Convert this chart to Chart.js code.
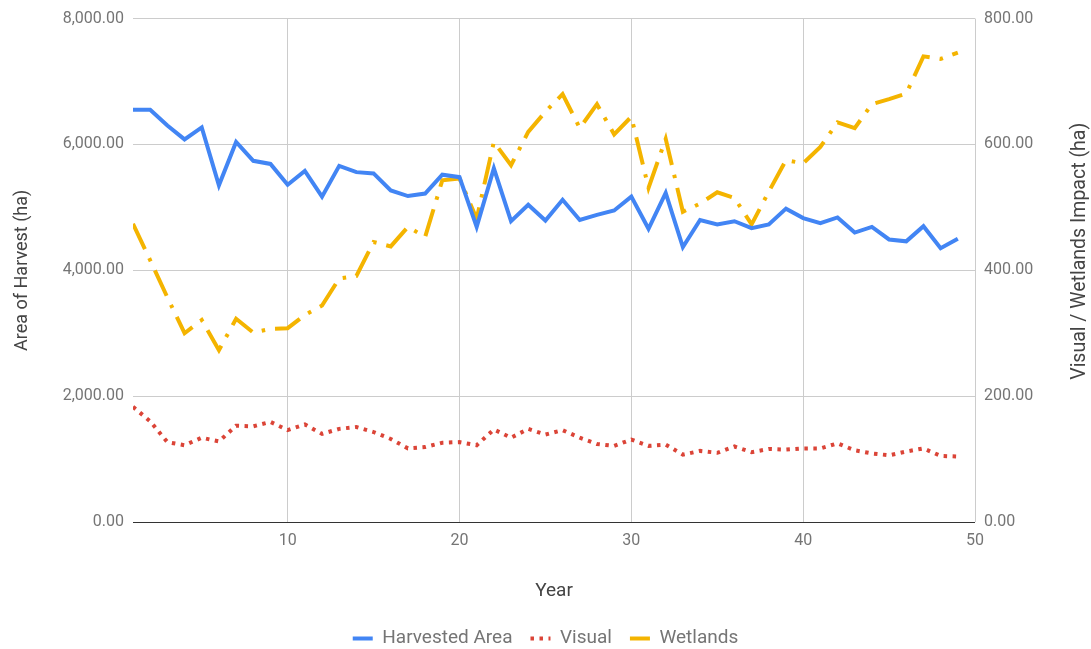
<!DOCTYPE html>
<html>
<head>
<meta charset="utf-8">
<script src="https://cdn.jsdelivr.net/npm/chart.js@4/dist/chart.umd.min.js"></script>
<style>
  html, body { margin: 0; padding: 0; background: #ffffff; }
  #wrap { width: 1091px; height: 649px; }
</style>
</head>
<body>
<div id="wrap"><canvas id="chart" width="1091" height="649"></canvas></div>
<script>
// Year index along the horizontal axis
const years = [1, 2, 3, 4, 5, 6, 7, 8, 9, 10,
  11, 12, 13, 14, 15, 16, 17, 18, 19, 20,
  21, 22, 23, 24, 25, 26, 27, 28, 29, 30,
  31, 32, 33, 34, 35, 36, 37, 38, 39, 40,
  41, 42, 43, 44, 45, 46, 47, 48, 49];

// Area of harvest per year (ha), left axis
const harvestedArea = [6550, 6550, 6300, 6080, 6270, 5350, 6040, 5740, 5690, 5360,
  5580, 5170, 5660, 5560, 5540, 5270, 5180, 5220, 5520, 5480,
  4690, 5620, 4780, 5040, 4790, 5120, 4800, 4880, 4950, 5170,
  4660, 5230, 4370, 4800, 4730, 4780, 4670, 4730, 4980, 4830,
  4750, 4840, 4600, 4690, 4490, 4460, 4700, 4350, 4500];

// Visual impact per year (ha), right axis
const visualImpact = [183, 160, 127, 122, 134, 128, 153, 152, 159, 146,
  155, 140, 148, 151, 143, 132, 117, 119, 126, 127,
  122, 147, 134, 148, 139, 146, 134, 124, 121, 131,
  121, 123, 107, 113, 110, 120, 111, 116, 115, 117,
  117, 125, 114, 109, 106, 112, 117, 105, 104];

// Wetlands impact per year (ha), right axis
const wetlandsImpact = [474, 416, 357, 300, 321, 273, 323, 301, 307, 308,
  329, 344, 387, 391, 445, 438, 469, 453, 543, 546,
  482, 604, 567, 620, 652, 680, 626, 664, 616, 644,
  531, 609, 493, 506, 524, 515, 473, 525, 575, 570,
  596, 635, 626, 664, 672, 681, 740, 736, 746];

const xTicks = [10, 20, 30, 40, 50];
const leftTicks = [0, 2000, 4000, 6000, 8000];
const rightTicks = [0, 200, 400, 600, 800];
const rightAxisTitle = 'Visual / Wetlands Impact (ha)';

const pairs = (vals) => vals.map((v, i) => ({ x: years[i], y: v }));
const fmt = (v) => Number(v).toLocaleString('en-US', { minimumFractionDigits: 2, maximumFractionDigits: 2 });

const FONT = 'Roboto, "Noto Sans", Arial, sans-serif';
const GRID = '#cccccc';
const TICK_COLOR = '#757575';
const TITLE_COLOR = '#444444';

// Right-hand axis title, read bottom-to-top like the left one
const rightTitlePlugin = {
  id: 'rightTitle',
  afterDraw(chart) {
    const ctx = chart.ctx;
    const scale = chart.scales.yRight;
    ctx.save();
    ctx.translate(scale.right - 11, (chart.chartArea.top + chart.chartArea.bottom) / 2 - 19);
    ctx.rotate(-Math.PI / 2);
    ctx.font = '19.5px ' + FONT;
    ctx.fillStyle = TITLE_COLOR;
    ctx.textAlign = 'center';
    ctx.textBaseline = 'middle';
    ctx.fillText(rightAxisTitle, 0, 0);
    ctx.restore();
  }
};

new Chart(document.getElementById('chart'), {
  type: 'line',
  data: {
    datasets: [
      {
        label: 'Harvested Area',
        data: pairs(harvestedArea),
        yAxisID: 'yLeft',
        borderColor: '#4285F4',
        backgroundColor: '#4285F4',
        borderWidth: 4,
        pointRadius: 0,
        tension: 0,
        borderJoinStyle: 'miter',
        order: 1
      },
      {
        label: 'Visual',
        data: pairs(visualImpact),
        yAxisID: 'yRight',
        borderColor: '#DB4437',
        backgroundColor: '#DB4437',
        borderWidth: 4,
        borderDash: [3.5, 5.5],
        pointRadius: 0,
        tension: 0,
        order: 2
      },
      {
        label: 'Wetlands',
        data: pairs(wetlandsImpact),
        yAxisID: 'yRight',
        borderColor: '#F4B400',
        backgroundColor: '#F4B400',
        borderWidth: 4,
        borderDash: [28, 10, 3.5, 10],
        pointRadius: 0,
        tension: 0,
        order: 3
      }
    ]
  },
  plugins: [rightTitlePlugin],
  options: {
    responsive: false,
    animation: false,
    events: [],
    layout: { padding: { top: 17, left: 0, right: 0, bottom: -9 } },
    plugins: {
      tooltip: { enabled: false },
      legend: {
        display: true,
        position: 'bottom',
        align: 'center',
        labels: {
          usePointStyle: true,
          pointStyle: 'line',
          pointStyleWidth: 20,
          padding: 18,
          color: TICK_COLOR,
          font: { family: FONT, size: 19 },
          generateLabels: (chart) => {
            const items = Chart.defaults.plugins.legend.labels.generateLabels(chart);
            items.forEach((it) => {
              const ds = chart.data.datasets[it.datasetIndex];
              it.lineDash = ds.borderDash || [];
              it.lineWidth = ds.borderWidth;
              it.strokeStyle = ds.borderColor;
              it.fillStyle = ds.borderColor;
              it.pointStyle = 'line';
              it.lineCap = 'butt';
            });
            return items;
          }
        }
      }
    },
    scales: {
      x: {
        type: 'linear',
        min: 1,
        max: 50,
        afterBuildTicks: (scale) => { scale.ticks = xTicks.map(v => ({ value: v })); },
        afterFit: (scale) => { scale.height = 89; },
        grid: { color: GRID, lineWidth: 1, drawTicks: false },
        border: { display: false },
        ticks: {
          color: TICK_COLOR,
          padding: 9,
          maxRotation: 0,
          font: { family: FONT, size: 16 },
          callback: (v) => String(v)
        },
        title: {
          display: true,
          text: 'Year',
          color: TITLE_COLOR,
          font: { family: FONT, size: 19 },
          padding: { top: 0, bottom: 8 }
        }
      },
      yLeft: {
        type: 'linear',
        position: 'left',
        min: 0,
        max: 8000,
        afterBuildTicks: (scale) => { scale.ticks = leftTicks.map(v => ({ value: v })); },
        afterFit: (scale) => { scale.width = 133; },
        grid: {
          color: (ctx) => (ctx.tick && ctx.tick.value === 0 ? '#333333' : GRID),
          lineWidth: 1,
          drawTicks: false
        },
        border: { display: false },
        ticks: {
          color: TICK_COLOR,
          padding: 9,
          font: { family: FONT, size: 16 },
          callback: (v) => fmt(v)
        },
        title: {
          display: true,
          text: 'Area of Harvest (ha)',
          color: TITLE_COLOR,
          font: { family: FONT, size: 18 },
          padding: { top: 12, bottom: 0 }
        }
      },
      yRight: {
        type: 'linear',
        position: 'right',
        min: 0,
        max: 800,
        afterBuildTicks: (scale) => { scale.ticks = rightTicks.map(v => ({ value: v })); },
        afterFit: (scale) => { scale.width = 116; },
        grid: { display: false, drawTicks: false },
        border: { display: false },
        ticks: {
          color: TICK_COLOR,
          padding: 9,
          font: { family: FONT, size: 16 },
          callback: (v) => fmt(v)
        },
        title: { display: false }
      }
    }
  }
});
</script>
</body>
</html>
